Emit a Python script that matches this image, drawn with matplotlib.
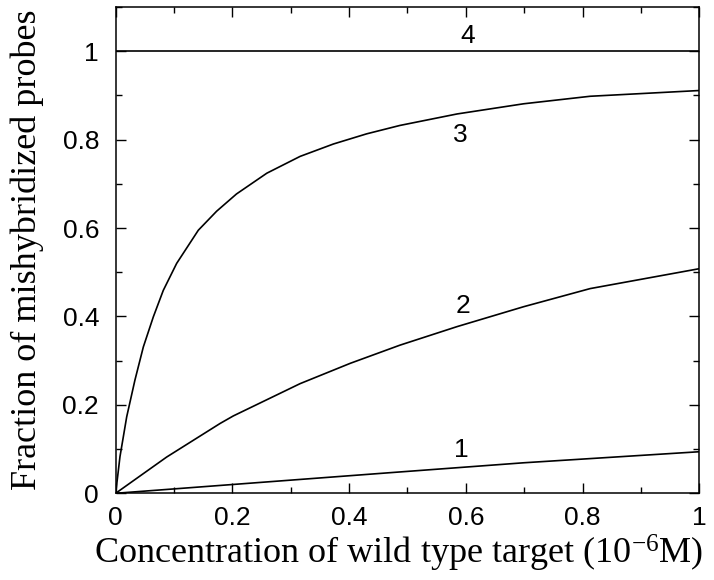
import matplotlib
matplotlib.use("Agg")
import matplotlib.pyplot as plt
from matplotlib.ticker import MultipleLocator

plt.rcParams['mathtext.fontset'] = 'custom'
plt.rcParams['mathtext.rm'] = 'Liberation Serif'
plt.rcParams['mathtext.it'] = 'Liberation Serif:italic'

# Curve 1
x1 = [0.0, 0.2016, 0.47, 0.699, 1.0]
y1 = [0.0, 0.020, 0.0466, 0.069, 0.094]
# Curve 2
x2 = [0.0, 0.0874, 0.179, 0.2016, 0.316, 0.402, 0.487, 0.585, 0.699, 0.813, 1.0]
y2 = [0.0, 0.082, 0.158, 0.175, 0.248, 0.294, 0.335, 0.377, 0.422, 0.463, 0.508]
# Curve 3
x3 = [0.0, 0.0074, 0.0189, 0.033, 0.0474, 0.0645, 0.0816, 0.1045, 0.1416, 0.173,
      0.207, 0.259, 0.316, 0.373, 0.430, 0.487, 0.585, 0.699, 0.813, 1.0]
y3 = [0.0, 0.083, 0.173, 0.256, 0.331, 0.399, 0.459, 0.520, 0.595, 0.638,
      0.677, 0.724, 0.762, 0.790, 0.813, 0.832, 0.858, 0.881, 0.898, 0.911]
# Curve 4
x4 = [0.0, 1.0]
y4 = [1.0, 1.0]

labels = ["1", "2", "3", "4"]
label_x = [0.593, 0.595, 0.591, 0.603]
label_y = [0.098, 0.423, 0.810, 1.035]

fig = plt.figure(figsize=(7.14, 5.80), dpi=100)
ax = fig.add_axes([0.162, 0.1495, 0.8174, 0.8385])

for xs, ys in [(x1, y1), (x2, y2), (x3, y3), (x4, y4)]:
    ax.plot(xs, ys, color='black', lw=1.2, solid_joinstyle='round')

for t, lx, ly in zip(labels, label_x, label_y):
    ax.text(lx, ly, t, ha='center', va='center', fontsize=19,
            family='Liberation Sans')

ax.set_xlim(0, 1)
ax.set_ylim(0, 1.1)
ax.xaxis.set_major_locator(MultipleLocator(0.2))
ax.xaxis.set_minor_locator(MultipleLocator(0.1))
ax.yaxis.set_major_locator(MultipleLocator(0.2))
ax.yaxis.set_minor_locator(MultipleLocator(0.1))
fmt = plt.FuncFormatter(lambda v, p: ('%g' % round(v, 2)))
ax.xaxis.set_major_formatter(fmt)
ax.yaxis.set_major_formatter(fmt)
ax.tick_params(which='both', direction='in', top=True, right=True, width=1)
ax.tick_params(which='major', length=7, labelsize=19)
ax.tick_params(axis='x', which='major', pad=9)
ax.tick_params(axis='y', which='major', pad=12)
ax.tick_params(which='minor', length=4)
for lab in ax.get_xticklabels() + ax.get_yticklabels():
    lab.set_family('Liberation Sans')
for s in ax.spines.values():
    s.set_linewidth(1.1)

ax.set_xlabel('Concentration of wild type target (10$^{-6}$M)',
              family='Liberation Serif', fontsize=26, labelpad=0)
ax.xaxis.set_label_coords(0.484, -0.082)
ax.xaxis.label.set_va('top')
ax.set_ylabel('Fraction of mishybridized probes',
              family='Liberation Serif', fontsize=26, labelpad=13)

fig.savefig('out.png', dpi=100)
